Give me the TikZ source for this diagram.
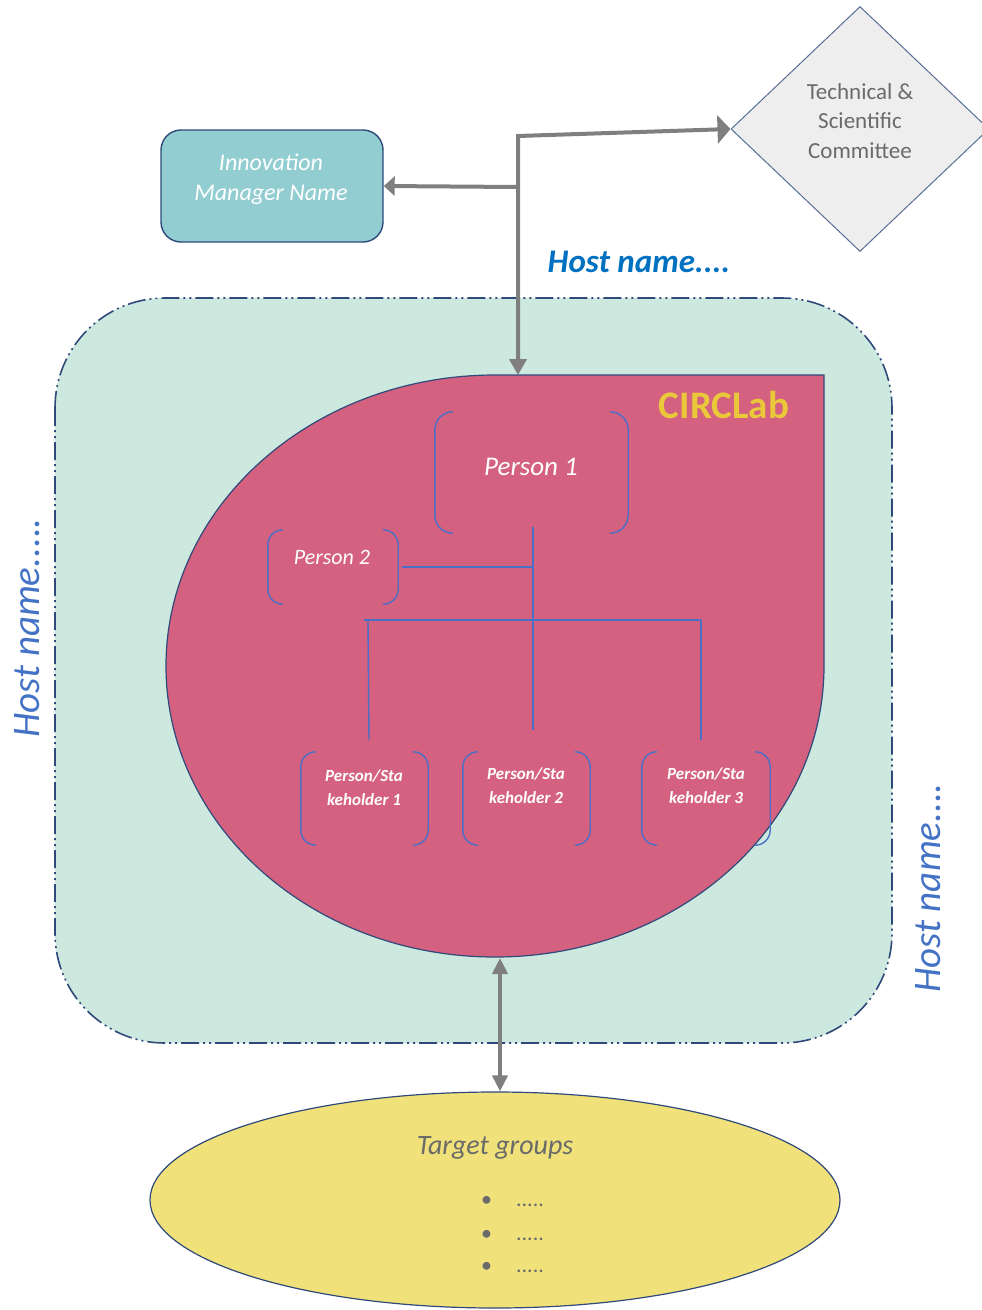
\documentclass[tikz,border=0pt]{standalone}
\usepackage{fontspec}
\setmainfont{Carlito}
\usetikzlibrary{shapes.geometric,arrows.meta}
\definecolor{navy}{HTML}{2F4A7A}
\definecolor{mint}{HTML}{CDE9DF}
\definecolor{pinkc}{HTML}{D4617F}
\definecolor{tealc}{HTML}{92CDD1}
\definecolor{yellowc}{HTML}{F0E17B}
\definecolor{dgray}{HTML}{7F7F7F}
\definecolor{tgray}{HTML}{6A6A6A}
\definecolor{hostblue}{HTML}{4472C4}
\definecolor{hostbluetop}{HTML}{0070C0}
\definecolor{circy}{HTML}{E9C83A}
\definecolor{brkblue}{HTML}{4A6FC7}
\definecolor{dfill}{HTML}{EEEEEE}
\newcommand\fs[1]{\fontsize{#1}{1.25\dimexpr#1pt\relax}\selectfont}
\newcommand\bracketpair[2]{%
  \draw[brk, rounded corners=#2] ([xshift=#2]#1.north west) -- (#1.north west) -- (#1.south west) -- ([xshift=#2]#1.south west);
  \draw[brk, rounded corners=#2] ([xshift=-#2]#1.north east) -- (#1.north east) -- (#1.south east) -- ([xshift=-#2]#1.south east);}
\tikzset{
  garrow/.style={draw=dgray, line width=4pt},
  brk/.style={draw=brkblue, line width=1.4pt},
  bline/.style={draw=brkblue, line width=1.4pt},
  brbox/.style={draw=none, inner sep=0pt},
  ptxt/.style={text=white, align=center, inner sep=0pt},
  hostv/.style={text=hostblue, font=\itshape\fs{39}, rotate=90, inner sep=0pt},
  tgline/.style={text=tgray, font=\fs{22}, anchor=west, inner sep=0pt},
}
\begin{document}
\begin{tikzpicture}[x=1pt,y=1pt]
\useasboundingbox (0,0) rectangle (982,-1310);
% outer host area
\draw[navy, line width=1.6pt, fill=mint, rounded corners=110pt,
      dash pattern=on 18pt off 4pt on 2pt off 4pt on 2pt off 4pt]
  (55,-298) rectangle (892,-1043);
% CIRCLab shape
\draw[navy, line width=1.2pt, fill=pinkc]
  (824,-375) -- (824,-666) arc[start angle=0, end angle=-270, x radius=329, y radius=291] -- cycle;
\coordinate (ctop) at (520,-375);
\coordinate (cbot) at (500,-958);
\node[text=circy, font=\bfseries\fs{39}, inner sep=0pt] (circ) at (724,-405) {CIRCLab};

% top nodes
\node[draw=navy, line width=1.4pt, fill=tealc, rounded corners=20pt,
      minimum width=222pt, minimum height=112pt] (imb) at (272,-186) {};
\node[text=white, align=center, font=\itshape\fs{24}, inner sep=0pt] (imbt) at (271,-179)
  {Innovation\\Manager Name};
\node[diamond, draw=navy!80, line width=1pt, fill=dfill, minimum width=258pt,
      minimum height=245pt, inner sep=0pt] (tsc) at (860,-129) {};
\node[text=tgray, align=center, font=\fs{23}, inner sep=0pt] (tsct) at (860,-121)
  {Technical \&\\[1pt]Scientific\\[1pt]Committee};

\node[text=hostbluetop, font=\bfseries\itshape\fs{33}, inner sep=0pt] (htop) at (639,-262) {Host name....};
\node[hostv] (hleft) at (27,-628) {Host name.....};
\node[hostv] (hright) at (928,-888) {Host name....};

% gray arrows
\coordinate (jt) at (518,-136);
\coordinate (jm) at (518,-187);
\draw[garrow, {Triangle[length=13pt,width=28pt]}-{Triangle[length=16pt,width=17pt]}]
  (tsc.west) -- (jt) -- (jt |- ctop);
\draw[garrow, -{Triangle[length=11pt,width=19pt]}] (jm) -- (imb.east);

% persons
\node[brbox, minimum width=193pt, minimum height=121pt] (p1) at (531.5,-472.5) {};
\bracketpair{p1}{18pt}
\node[ptxt, font=\itshape\fs{27}] (p1t) at (531,-467) {Person 1};
\node[brbox, minimum width=130pt, minimum height=74pt] (p2) at (333,-567) {};
\bracketpair{p2}{15pt}
\node[ptxt, font=\itshape\fs{22}] (p2t) at (332,-557) {Person 2};

\node[brbox, minimum width=127pt, minimum height=93pt] (sh1) at (364.5,-798.5) {};
\node[brbox, minimum width=127pt, minimum height=93pt] (sh2) at (526.5,-798.5) {};
\node[brbox, minimum width=128pt, minimum height=93pt] (sh3) at (706,-798.5) {};
\bracketpair{sh1}{15pt}
\bracketpair{sh2}{15pt}
\bracketpair{sh3}{15pt}
\node[ptxt, font=\bfseries\itshape\fs{17}] (sh1t) at (364,-788) {Person/Sta\\[3pt]keholder 1};
\node[ptxt, font=\bfseries\itshape\fs{17}] (sh2t) at (526,-786) {Person/Sta\\[3pt]keholder 2};
\node[ptxt, font=\bfseries\itshape\fs{17}] (sh3t) at (706,-786) {Person/Sta\\[3pt]keholder 3};

% blue org lines
\coordinate (tA) at (533,-527);
\coordinate (tB) at (533,-730);
\coordinate (tM) at (533,-567);
\coordinate (tL) at (364,-620);
\coordinate (tR) at (701,-620);
\draw[bline] (tA) -- (tB);
\draw[bline] ([xshift=4pt]p2.east |- tM) -- (tM);
\draw[bline] (tL) -- (tR);
\draw[bline] (368,-620) -- (369,-740);
\draw[bline] (tR) -- (701,-740);

% target groups
\node[ellipse, draw=navy, line width=1.2pt, fill=yellowc, minimum width=690pt,
      minimum height=216pt, inner sep=0pt] (tg) at (495,-1200) {};
\node[text=tgray, font=\itshape\fs{28}, inner sep=0pt] (tgt) at (495,-1148) {Target groups};
\node[tgline] (b1) at (481,-1202) {\textbullet\hspace{24pt}.....};
\node[tgline] (b2) at (481,-1236) {\textbullet\hspace{24pt}.....};
\node[tgline] (b3) at (481,-1268) {\textbullet\hspace{24pt}.....};

\draw[garrow, {Triangle[length=16pt,width=15pt]}-{Triangle[length=16pt,width=15pt]}]
  (cbot) -- (cbot |- tg.north);
\end{tikzpicture}
\end{document}
